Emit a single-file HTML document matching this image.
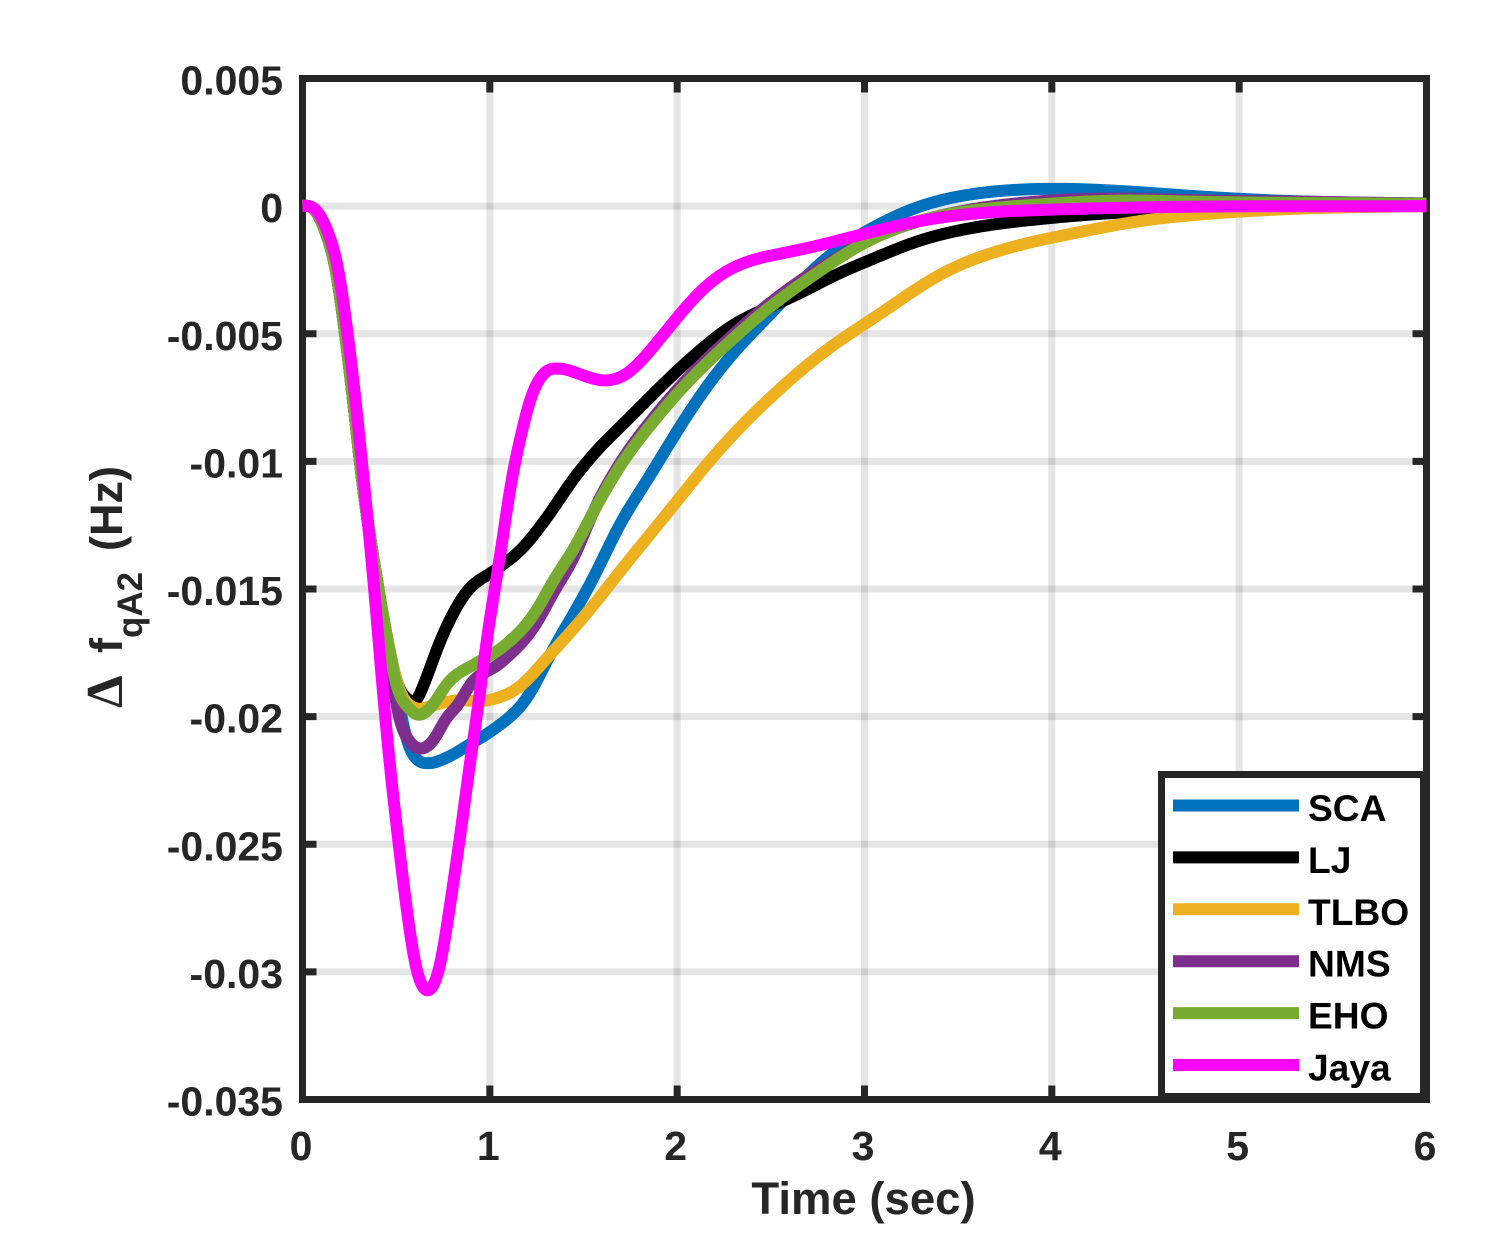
<!DOCTYPE html>
<html>
<head>
<meta charset="utf-8">
<title>Delta f qA2 response chart</title>
<style>
html,body{margin:0;padding:0;background:#fff;}
svg{display:block;}
text{font-family:"Liberation Sans",sans-serif;font-weight:bold;}
</style>
</head>
<body>
<svg id="chart" width="1495" height="1251" viewBox="0 0 1495 1251" xmlns="http://www.w3.org/2000/svg">
  <rect width="1495" height="1251" fill="#fff"/>
  <g id="grid"></g>
  <g id="axes"></g>
  <g id="series"></g>
  <text x="863.5" y="1214" font-size="45.5" text-anchor="middle" fill="#262626">Time (sec)</text>
  <text transform="translate(122,708) rotate(-90)" fill="#262626" font-size="45"><tspan x="0" y="0" font-size="52" style="font-family:'Liberation Serif',serif">Δ</tspan><tspan x="55" y="0">f</tspan><tspan x="70" y="20" font-size="35">qA2</tspan><tspan x="157" y="0">(Hz)</tspan></text>
  <g id="legend"></g>
</svg>
<script>
const xTicks = [0, 1, 2, 3, 4, 5, 6];
const yTicks = [0.005, 0, -0.005, -0.01, -0.015, -0.02, -0.025, -0.03, -0.035];
const yTickLabels = ['0.005', '0', '-0.005', '-0.01', '-0.015', '-0.02', '-0.025', '-0.03', '-0.035'];

const scaT = [0, .06, .127, .178, .2275, .271, .309, .357, .378, .424, .454, .49, .52, .56, .603, .674, .772, .896, 1.02, 1.2, 1.324, 1.555, 1.713, 1.84, 2, 2.14, 2.284, 2.425, 2.53, 2.745, 2.85, 3.05, 3.23, 3.4, 3.58, 3.76, 4.03, 4.4, 4.74, 5.18, 6];
const scaV = [0, -.00005, -.00108, -.0024, -.005, -.00762, -.01023, -.01283, -.01376, -.01585, -.017, -.0186, -.0197, -.02107, -.02165, -.02183, -.0216, -.02107, -.0205, -.01925, -.01755, -.01454, -.01219, -.01075, -.0088, -.00723, -.00586, -.00475, -.00403, -.00225, -.00167, -.0008, -.00014, .00025, .0005, .00063, .00069, .00058, .0004, .00022, .0001];

const ljT = [0, .06, .127, .178, .2275, .271, .309, .357, .378, .424, .454, .507, .56, .6, .65, .737, .86, 1.04, 1.161, 1.306, 1.446, 1.57, 1.713, 1.855, 2, 2.14, 2.284, 2.6, 2.785, 2.87, 2.99, 3.23, 3.58, 3.94, 4.38, 5, 6];
const ljV = [0, -.00005, -.00108, -.0024, -.005, -.00762, -.01023, -.01283, -.01376, -.01585, -.017, -.0188, -.0193, -.0195, -.0187, -.017, -.01526, -.0142, -.0135, -.01219, -.01069, -.00958, -.00853, -.00749, -.00644, -.00553, -.00468, -.00363, -.00292, -.00253, -.00226, -.00147, -.00083, -.0005, -.00024, -.00008, 0];

const tlboT = [0, .06, .127, .178, .2275, .271, .309, .357, .378, .424, .454, .507, .56, .613, .7, .8, 1, 1.146, 1.324, 1.59, 1.67, 1.93, 2.25, 2.516, 2.785, 3.1, 3.38, 3.58, 3.85, 4.12, 4.47, 4.83, 5.3, 6];
const tlboV = [0, -.00005, -.00108, -.0024, -.005, -.00762, -.01023, -.01283, -.01376, -.01585, -.017, -.0188, -.0195, -.0197, -.01955, -.01938, -.01935, -.0189, -.01755, -.0153, -.01454, -.01219, -.00932, -.00736, -.00566, -.00416, -.00272, -.00206, -.00147, -.00106, -.00057, -.0003, -.0001, 0];

const nmsT = [0, .06, .127, .178, .2275, .271, .309, .357, .378, .424, .44, .47, .497, .515, .55, .62, .72, .754, .844, .88, 1.057, 1.235, 1.35, 1.467, 1.537, 1.713, 1.892, 2.07, 2.247, 2.425, 2.6, 2.785, 2.96, 3.05, 3.23, 3.58, 3.94, 5, 6];
const nmsV = [0, -.00005, -.00108, -.0024, -.005, -.00762, -.01023, -.01283, -.01376, -.01585, -.0166, -.0181, -.01937, -.02016, -.02075, -.02127, -.0207, -.0202, -.0194, -.0189, -.0179, -.0165, -.0150, -.0135, -.0122, -.00985, -.00812, -.00662, -.00538, -.00421, -.00316, -.00232, -.00155, -.0012, -.0007, -.0001, .0002, .0002, .0001];

const ehoT = [0, .06, .127, .178, .2275, .271, .309, .357, .378, .424, .454, .507, .56, .613, .69, .772, .93, 1.057, 1.235, 1.35, 1.467, 1.537, 1.713, 1.892, 2.07, 2.247, 2.425, 2.6, 2.785, 2.87, 3.05, 3.23, 3.4, 3.58, 3.76, 3.94, 4.3, 4.83, 6];
const ehoV = [0, -.00005, -.00108, -.0024, -.005, -.00762, -.01023, -.01283, -.01376, -.01585, -.017, -.019, -.0196, -.01996, -.0196, -.0187, -.0179, -.01734, -.016, -.01454, -.0132, -.01219, -.00997, -.00827, -.00677, -.00553, -.00436, -.00331, -.00246, -.00194, -.00122, -.00069, -.00035, -.00015, -.00002, .00007, .00022, .00016, .00009];

const jayaT = [0, .06, .14, .191, .241, .284, .32, .355, .368, .433, .467, .507, .55, .603, .672, .734, .791, .8434, .8904, .942, .983, 1.0367, 1.0676, 1.0997, 1.1717, 1.218, 1.284, 1.385, 1.5, 1.627, 1.751, 1.857, 2, 2.14, 2.284, 2.427, 2.69, 2.87, 2.96, 3.23, 3.58, 3.94, 4.48, 6];
const jayaV = [0, -.00005, -.00108, -.0024, -.005, -.00762, -.01023, -.01283, -.01376, -.01937, -.02199, -.02459, -.02721, -.02982, -.0308, -.02982, -.02721, -.02459, -.02199, -.01937, -.017, -.01454, -.0131, -.01142, -.0088, -.00749, -.00657, -.00637, -.00664, -.00686, -.00651, -.00566, -.00436, -.00318, -.0024, -.00203, -.00168, -.00132, -.00116, -.00066, -.00028, -.00015, -.00005, 0];

const seriesNames = ['SCA', 'LJ', 'TLBO', 'NMS', 'EHO', 'Jaya'];
const seriesColors = ['#0072bd', '#000000', '#edb120', '#7e2f8e', '#77ac30', '#ff00ff'];
const seriesTimes = [scaT, ljT, tlboT, nmsT, ehoT, jayaT];
const seriesValues = [scaV, ljV, tlboV, nmsV, ehoV, jayaV];

const NS = 'http://www.w3.org/2000/svg';
const plot = {left: 302.5, right: 1426.5, top: 78.5, bottom: 1099.5};
const xDomain = [0, 6];
const yDomain = [-0.035, 0.005];

function xScale(t) {
  return plot.left + (t - xDomain[0]) / (xDomain[1] - xDomain[0]) * (plot.right - plot.left);
}
function yScale(v) {
  return plot.bottom - (v - yDomain[0]) / (yDomain[1] - yDomain[0]) * (plot.bottom - plot.top);
}
function make(tag, attrs, parent) {
  const el = document.createElementNS(NS, tag);
  for (const k in attrs) el.setAttribute(k, attrs[k]);
  parent.appendChild(el);
  return el;
}
function slopes(ts, vs) {
  const n = ts.length;
  const m = [];
  for (let i = 0; i < n; i++) {
    if (i === 0) m.push(0);
    else if (i === n - 1) m.push((vs[i] - vs[i - 1]) / (ts[i] - ts[i - 1]));
    else {
      const h0 = ts[i] - ts[i - 1], h1 = ts[i + 1] - ts[i];
      const d0 = (vs[i] - vs[i - 1]) / h0, d1 = (vs[i + 1] - vs[i]) / h1;
      m.push((d0 * h1 + d1 * h0) / (h0 + h1));
    }
  }
  return m;
}
function sampleCurve(ts, vs, dt) {
  const m = slopes(ts, vs);
  const out = [];
  let k = 0;
  const count = Math.round((ts[ts.length - 1] - ts[0]) / dt);
  for (let j = 0; j <= count; j++) {
    const t = ts[0] + j * dt;
    while (k < ts.length - 2 && t > ts[k + 1]) k++;
    const h = ts[k + 1] - ts[k];
    const u = (t - ts[k]) / h;
    const u2 = u * u, u3 = u2 * u;
    out.push((2 * u3 - 3 * u2 + 1) * vs[k] + (u3 - 2 * u2 + u) * h * m[k] +
             (-2 * u3 + 3 * u2) * vs[k + 1] + (u3 - u2) * h * m[k + 1]);
  }
  return out;
}
function sigmaAt(t) {
  if (t < 1.3) return 0.02;
  if (t < 2.5) return 0.02 + (t - 1.3) / 1.2 * 0.08;
  return 0.12;
}
function buildPath(ts, vs) {
  const dt = 0.005;
  const raw = sampleCurve(ts, vs, dt);
  let d = '';
  for (let j = 0; j < raw.length; j++) {
    const t = ts[0] + j * dt;
    const s = sigmaAt(t);
    const w = Math.ceil(3 * s / dt);
    let sum = 0, wt = 0;
    for (let q = -w; q <= w; q++) {
      let idx = j + q;
      if (idx < 0) idx = 0;
      if (idx >= raw.length) idx = raw.length - 1;
      const g = Math.exp(-(q * dt) * (q * dt) / (2 * s * s));
      sum += raw[idx] * g;
      wt += g;
    }
    const v = sum / wt;
    d += (j === 0 ? 'M' : 'L') + xScale(t).toFixed(2) + ' ' + yScale(v).toFixed(2);
  }
  return d;
}

const gridG = document.getElementById('grid');
const axesG = document.getElementById('axes');
const seriesG = document.getElementById('series');
const legendG = document.getElementById('legend');

xTicks.forEach(function (t) {
  if (t === xDomain[0] || t === xDomain[1]) return;
  const g = make('line', {x1: xScale(t), x2: xScale(t), y1: plot.top, y2: plot.bottom, stroke: '#000', 'stroke-opacity': 0.1, 'stroke-width': 7}, gridG);
  
  
});
yTicks.forEach(function (v) {
  if (v === yDomain[0] || v === yDomain[1]) return;
  const g = make('line', {x1: plot.left, x2: plot.right, y1: yScale(v), y2: yScale(v), stroke: '#000', 'stroke-opacity': 0.1, 'stroke-width': 7}, gridG);
  
  
});

const frame = make('rect', {x: plot.left, y: plot.top, width: plot.right - plot.left, height: plot.bottom - plot.top, fill: 'none', stroke: '#262626', 'stroke-width': 7}, axesG);



xTicks.forEach(function (t) {
  const x = xScale(t);
  [[plot.bottom, plot.bottom - 14], [plot.top, plot.top + 14]].forEach(function (p) {
    const tick = make('line', {x1: x, x2: x, y1: p[0], y2: p[1], stroke: '#262626', 'stroke-width': 7}, axesG);
    
    
  });
  const label = make('text', {x: x - 1.5, y: 1160, 'font-size': 41, 'text-anchor': 'middle', fill: '#262626'}, axesG);
  label.textContent = String(t);
  
  
});
yTicks.forEach(function (v, i) {
  const y = yScale(v);
  [[plot.left, plot.left + 14], [plot.right, plot.right - 14]].forEach(function (p) {
    const tick = make('line', {x1: p[0], x2: p[1], y1: y, y2: y, stroke: '#262626', 'stroke-width': 7}, axesG);
    
    
  });
  const label = make('text', {x: 283, y: y + 16, 'font-size': 41, 'text-anchor': 'end', fill: '#262626'}, axesG);
  label.textContent = yTickLabels[i];
  
  
});

seriesNames.forEach(function (name, i) {
  const line = make('path', {d: buildPath(seriesTimes[i], seriesValues[i]), fill: 'none', stroke: seriesColors[i], 'stroke-width': 12, 'stroke-linejoin': 'round'}, seriesG);
  
  
});

const legendBox = make('rect', {x: 1161.5, y: 774.5, width: 262, height: 322, fill: '#fff', stroke: '#262626', 'stroke-width': 7}, legendG);



seriesNames.forEach(function (name, i) {
  const cy = 805.5 + i * 51.9;
  const swatch = make('line', {x1: 1173, x2: 1299, y1: cy, y2: cy, stroke: seriesColors[i], 'stroke-width': 12}, legendG);
  
  
  const label = make('text', {x: 1308, y: cy + 15.5, 'font-size': 37.2, fill: '#000'}, legendG);
  label.textContent = name;
  
  
});
</script>
</body>
</html>
